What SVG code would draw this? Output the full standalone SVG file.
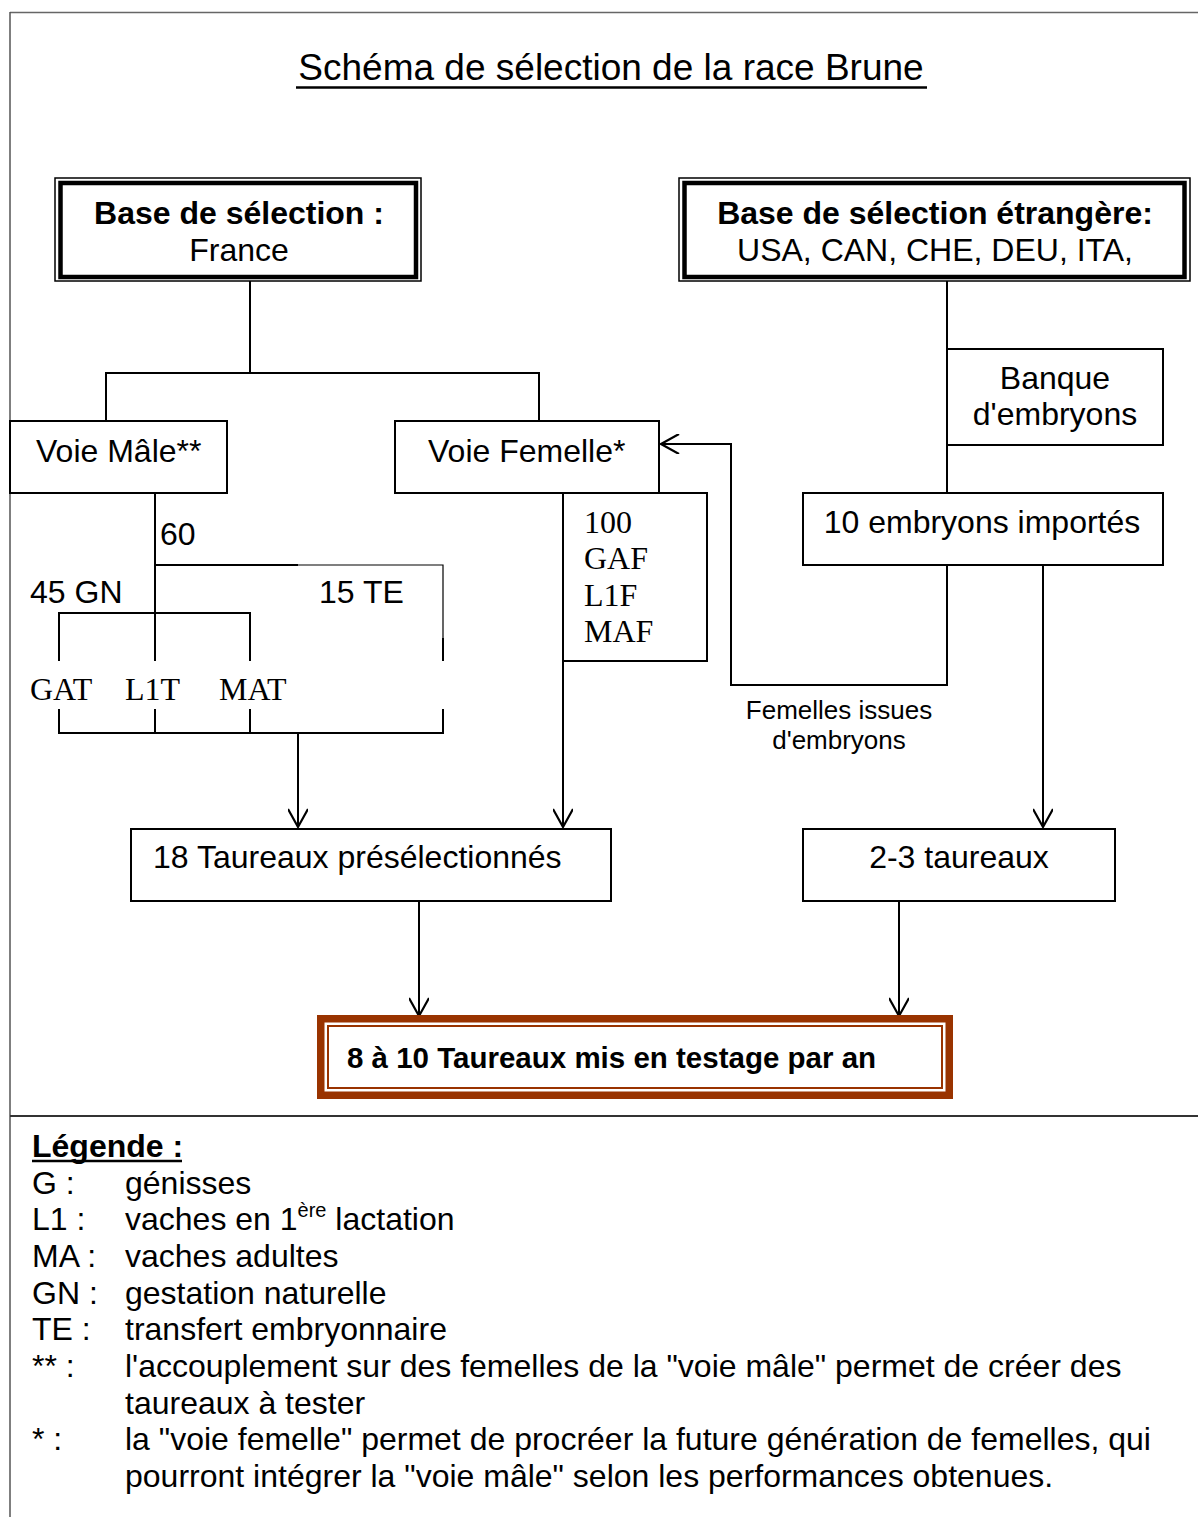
<svg xmlns="http://www.w3.org/2000/svg" width="1198" height="1517" viewBox="0 0 1198 1517">
<defs>
<style>
.s{font-family:"Liberation Sans",Arial,sans-serif;font-size:32px;fill:#000}
.b{font-weight:bold}
.m{text-anchor:middle}
.t{font-family:"Liberation Serif","Times New Roman",serif;font-size:32px;fill:#000}
.box{fill:#fff;stroke:#000;stroke-width:2}
.ln{fill:none;stroke:#000;stroke-width:2}
.thin{fill:none;stroke:#000;stroke-width:1.2}
.arr{fill:none;stroke:#000;stroke-width:2;marker-end:url(#ah)}
</style>
<marker id="ah" viewBox="0 0 20 20" refX="19" refY="10" markerWidth="20" markerHeight="20" markerUnits="userSpaceOnUse" orient="auto">
<path d="M1,0 L19,10 L1,20" fill="none" stroke="#000" stroke-width="2.2"/>
</marker>
</defs>
<rect width="1198" height="1517" fill="#fff"/>
<g id="frame">
<line x1="10" y1="12.5" x2="1198" y2="12.5" stroke="#666" stroke-width="1.5"/>
<line x1="10" y1="12" x2="10" y2="1517" stroke="#555" stroke-width="1.5"/>
<line x1="10" y1="1116" x2="1198" y2="1116" stroke="#333" stroke-width="2"/>
</g>
<g id="title">
<text class="s m" x="611" y="80" style="font-size:37px">Schéma de sélection de la race Brune</text>
<line x1="296" y1="87.5" x2="927" y2="87.5" stroke="#000" stroke-width="2.5"/>
</g>
<g id="connectors">
<polyline class="ln" points="250,280 250,373"/>
<polyline class="ln" points="106,421 106,373 539,373 539,421"/>
<polyline class="ln" points="947,280 947,493"/>
<polyline class="ln" points="155,493 155,661"/>
<polyline class="ln" points="155,565 298,565"/>
<polyline class="thin" points="298,565 443,565 443,640"/>
<polyline class="ln" points="443,638 443,661"/>
<polyline class="ln" points="59,661 59,613 250,613 250,661"/>
<polyline class="ln" points="59,709 59,733 443,733 443,709"/>
<polyline class="ln" points="155,709 155,733"/>
<polyline class="ln" points="250,709 250,733"/>
<line class="arr" x1="298" y1="733" x2="298" y2="827"/>
<line class="arr" x1="563" y1="661" x2="563" y2="827"/>
<polyline class="arr" points="947,565 947,685 731,685 731,444 661,444"/>
<line class="arr" x1="1043" y1="565" x2="1043" y2="827"/>
<line class="arr" x1="419" y1="901" x2="419" y2="1016"/>
<line class="arr" x1="899" y1="901" x2="899" y2="1016"/>
</g>
<g id="base-france">
<rect x="55" y="178" width="366" height="103" fill="#fff" stroke="#000" stroke-width="1.5"/>
<rect x="60.5" y="183" width="355.5" height="94" fill="none" stroke="#000" stroke-width="4.5"/>
<text class="s b m" x="239" y="224">Base de sélection :</text>
<text class="s m" x="239" y="261">France</text>
</g>
<g id="base-etrangere">
<rect x="679" y="178" width="511" height="103" fill="#fff" stroke="#000" stroke-width="1.5"/>
<rect x="684.5" y="183" width="500" height="94" fill="none" stroke="#000" stroke-width="4.5"/>
<text class="s b m" x="935" y="224">Base de sélection étrangère:</text>
<text class="s m" x="935" y="261">USA, CAN, CHE, DEU, ITA,</text>
</g>
<g id="banque">
<rect class="box" x="947" y="349" width="216" height="96"/>
<text class="s m" x="1055" y="389">Banque</text>
<text class="s m" x="1055" y="425">d'embryons</text>
</g>
<g id="voie-male">
<rect class="box" x="10" y="421" width="217" height="72"/>
<text class="s" x="36" y="462">Voie Mâle**</text>
</g>
<g id="voie-femelle">
<rect class="box" x="395" y="421" width="264" height="72"/>
<text class="s" x="428" y="462">Voie Femelle*</text>
</g>
<g id="embryons-importes">
<rect class="box" x="803" y="493" width="360" height="72"/>
<text class="s m" x="982" y="533">10 embryons importés</text>
</g>
<g id="femelles-detail">
<rect class="box" x="563" y="493" width="144" height="168"/>
<text class="t" x="584" y="533">100</text>
<text class="t" x="584" y="569">GAF</text>
<text class="t" x="584" y="606">L1F</text>
<text class="t" x="584" y="642">MAF</text>
</g>
<g id="male-labels">
<text class="s" x="160" y="545">60</text>
<text class="s" x="30" y="603">45 GN</text>
<text class="s" x="319" y="603">15 TE</text>
<text class="t" x="30" y="700">GAT</text>
<text class="t" x="125" y="700">L1T</text>
<text class="t" x="219" y="700">MAT</text>
</g>
<g id="femelles-issues">
<text class="s m" x="839" y="719" style="font-size:26px">Femelles issues</text>
<text class="s m" x="839" y="749" style="font-size:26px">d'embryons</text>
</g>
<g id="taureaux-preselectionnes">
<rect class="box" x="131" y="829" width="480" height="72"/>
<text class="s" x="153" y="868">18 Taureaux présélectionnés</text>
</g>
<g id="taureaux-etrangers">
<rect class="box" x="803" y="829" width="312" height="72"/>
<text class="s m" x="959" y="868">2-3 taureaux</text>
</g>
<g id="testage">
<rect x="320.75" y="1018.75" width="628.5" height="76.5" fill="#fff" stroke="#993300" stroke-width="7.5"/>
<rect x="328" y="1026" width="614" height="62" fill="none" stroke="#993300" stroke-width="2"/>
<text class="s b" x="347" y="1068" style="font-size:29.5px">8 à 10 Taureaux mis en testage par an</text>
</g>
<g id="legende">
<text class="s b" x="32" y="1157">Légende :</text>
<line x1="32" y1="1161" x2="182" y2="1161" stroke="#000" stroke-width="2.5"/>
<text class="s" x="32" y="1194">G :</text><text class="s" x="125" y="1194">génisses</text>
<text class="s" x="32" y="1230">L1 :</text><text class="s" x="125" y="1230">vaches en 1<tspan style="font-size:20px" dy="-13">ère</tspan><tspan dy="13"> lactation</tspan></text>
<text class="s" x="32" y="1267">MA :</text><text class="s" x="125" y="1267">vaches adultes</text>
<text class="s" x="32" y="1304">GN :</text><text class="s" x="125" y="1304">gestation naturelle</text>
<text class="s" x="32" y="1340">TE :</text><text class="s" x="125" y="1340">transfert embryonnaire</text>
<text class="s" x="32" y="1377">** :</text><text class="s" x="125" y="1377">l'accouplement sur des femelles de la "voie mâle" permet de créer des</text>
<text class="s" x="125" y="1414">taureaux à tester</text>
<text class="s" x="32" y="1450">* :</text><text class="s" x="125" y="1450">la "voie femelle" permet de procréer la future génération de femelles, qui</text>
<text class="s" x="125" y="1487">pourront intégrer la "voie mâle" selon les performances obtenues.</text>
</g>
</svg>
